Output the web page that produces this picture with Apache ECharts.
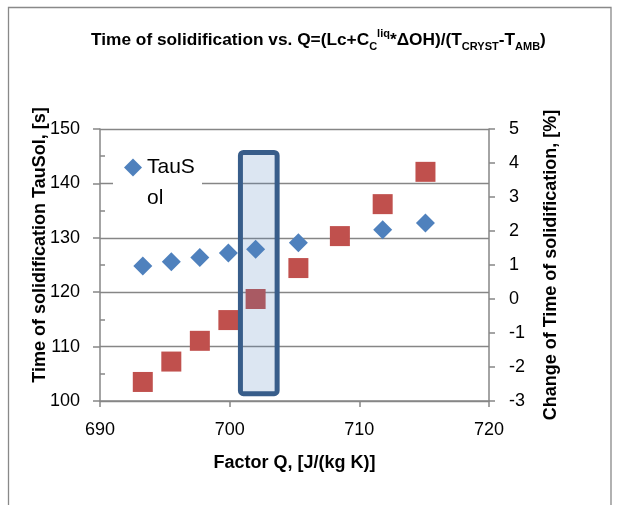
<!DOCTYPE html>
<html>
<head>
<meta charset="utf-8">
<script src="https://cdn.jsdelivr.net/npm/echarts@6/dist/echarts.min.js"></script>
<style>
html,body{margin:0;padding:0;background:#fff;}
#chart{width:619px;height:505px;}
</style>
</head>
<body>
<div id="chart"></div>
<script>
// ---- data ----
const factorQ = [693.3, 695.5, 697.7, 699.9, 702.0, 705.3, 708.5, 711.8, 715.1];
const tauSol = [124.8, 125.6, 126.4, 127.2, 127.9, 129.1, 130.3, 131.5, 132.7];
const changePct = [-2.44, -1.84, -1.23, -0.62, 0.0, 0.91, 1.85, 2.79, 3.74];
const highlightBox = [700.83, 145.7, 703.66, 101.35]; // x0, y0, x1, y1 (data units)
const xTicks = [690, 700, 710, 720];
const yLeftTicks = [100, 110, 120, 130, 140, 150];
const yRightTicks = [-3, -2, -1, 0, 1, 2, 3, 4, 5];

const FONT = 'Liberation Sans';
const GRAY = '#868686';

const chart = echarts.init(document.getElementById('chart'), null, {renderer: 'canvas'});

const blueData = factorQ.map((x, i) => [x, tauSol[i]]);
const redData = factorQ.map((x, i) => [x, changePct[i]]);

const option = {
  animation: false,
  backgroundColor: '#fff',
  textStyle: {fontFamily: FONT},
  title: {
    left: 91,
    top: 28.5,
    padding: 0,
    text: '{a|Time of solidification vs. Q=(Lc+C}{sub|C}{sup|liq}{a|*ΔOH)/(T}{sub|CRYST}{a|-T}{sub|AMB}{a|)}',
    textStyle: {
      fontFamily: FONT,
      rich: {
        a: {fontSize: 17.3, fontWeight: 'bold', color: '#000', fontFamily: FONT, lineHeight: 24, verticalAlign: 'middle'},
        sub: {fontSize: 11, fontWeight: 'bold', color: '#000', fontFamily: FONT, lineHeight: 11, verticalAlign: 'bottom'},
        sup: {fontSize: 11, fontWeight: 'bold', color: '#000', fontFamily: FONT, lineHeight: 11, verticalAlign: 'top'}
      }
    }
  },
  legend: {
    data: ['TauSol'],
    left: 113,
    top: 141,
    backgroundColor: '#fff',
    padding: [11, 0, 11, 11],
    // diamond marker drawn at the top of a tall icon box so it lines up with the first text line
    icon: 'path://M9,0L18,9L9,18L0,9Z M9,49',
    itemWidth: 18,
    itemHeight: 49,
    itemGap: 0,
    textStyle: {
      fontFamily: FONT,
      fontSize: 21,
      color: '#000',
      width: 55,
      overflow: 'breakAll',
      lineHeight: 31
    }
  },
  grid: {left: 100, right: 130, top: 129, bottom: 104, containLabel: false},
  xAxis: {
    type: 'value',
    min: xTicks[0],
    max: xTicks[xTicks.length - 1],
    interval: 10,
    name: 'Factor Q, [J/(kg K)]',
    nameLocation: 'middle',
    nameGap: 53,
    nameMoveOverlap: false,
    nameTextStyle: {fontFamily: FONT, fontSize: 18, fontWeight: 'bold', color: '#000'},
    axisLine: {show: true, onZero: false, lineStyle: {color: GRAY, width: 1.5}},
    axisTick: {show: true, inside: false, length: 6, lineStyle: {color: GRAY, width: 1.5}},
    axisLabel: {fontFamily: FONT, fontSize: 18, color: '#000', margin: 20},
    splitLine: {show: false}
  },
  yAxis: [
    {
      type: 'value',
      min: yLeftTicks[0],
      max: yLeftTicks[yLeftTicks.length - 1],
      interval: 10,
      position: 'left',
      name: 'Time of solidification TauSol, [s]',
      nameLocation: 'middle',
      nameGap: 51,
      nameMoveOverlap: false,
      nameTextStyle: {fontFamily: FONT, fontSize: 18, fontWeight: 'bold', color: '#000', padding: [0, 0, 0, 40]},
      axisLine: {show: true, lineStyle: {color: GRAY, width: 1.5}},
      axisTick: {show: true, inside: false, length: 7, lineStyle: {color: GRAY, width: 1.5}},
      minorTick: {show: true, splitNumber: 2, length: -5, lineStyle: {color: GRAY, width: 1.5}},
      axisLabel: {fontFamily: FONT, fontSize: 18, color: '#000', margin: 20},
      splitLine: {show: true, lineStyle: {color: GRAY, width: 1.3}}
    },
    {
      type: 'value',
      min: yRightTicks[0],
      max: yRightTicks[yRightTicks.length - 1],
      interval: 1,
      position: 'right',
      name: 'Change of Time of solidification, [%]',
      nameLocation: 'middle',
      nameGap: 53,
      nameMoveOverlap: false,
      nameRotate: 90,
      nameTextStyle: {fontFamily: FONT, fontSize: 18, fontWeight: 'bold', color: '#000'},
      axisLine: {show: true, lineStyle: {color: GRAY, width: 1.5}},
      axisTick: {show: true, inside: false, length: 6, lineStyle: {color: GRAY, width: 1.5}},
      axisLabel: {fontFamily: FONT, fontSize: 18, color: '#000', margin: 20},
      splitLine: {show: false}
    }
  ],
  series: [
    {
      name: 'TauSol',
      type: 'scatter',
      yAxisIndex: 0,
      data: blueData,
      symbol: 'diamond',
      symbolSize: 19,
      itemStyle: {color: '#4F81BD', opacity: 1},
      z: 3
    },
    {
      name: 'Change',
      type: 'scatter',
      yAxisIndex: 1,
      data: redData,
      symbol: 'rect',
      symbolSize: 20,
      itemStyle: {color: '#C0504D', opacity: 1},
      z: 4
    },
    {
      name: 'box',
      type: 'custom',
      yAxisIndex: 0,
      z: 10,
      clip: false,
      silent: true,
      data: [highlightBox],
      encode: {x: [0, 2], y: [1, 3]},
      renderItem: function (params, api) {
        const p1 = api.coord([api.value(0), api.value(1)]);
        const p2 = api.coord([api.value(2), api.value(3)]);
        return {
          type: 'rect',
          shape: {x: p1[0], y: p1[1], width: p2[0] - p1[0], height: p2[1] - p1[1], r: 3},
          style: {fill: 'rgba(79,129,189,0.2)', stroke: '#385D8A', lineWidth: 5}
        };
      }
    }
  ],
  graphic: [
    {
      type: 'rect',
      shape: {x: 8.5, y: 7.5, width: 602.5, height: 520},
      style: {fill: 'none', stroke: '#898989', lineWidth: 1.3},
      silent: true,
      z: -1
    }
  ]
};
chart.setOption(option);
</script>
</body>
</html>
